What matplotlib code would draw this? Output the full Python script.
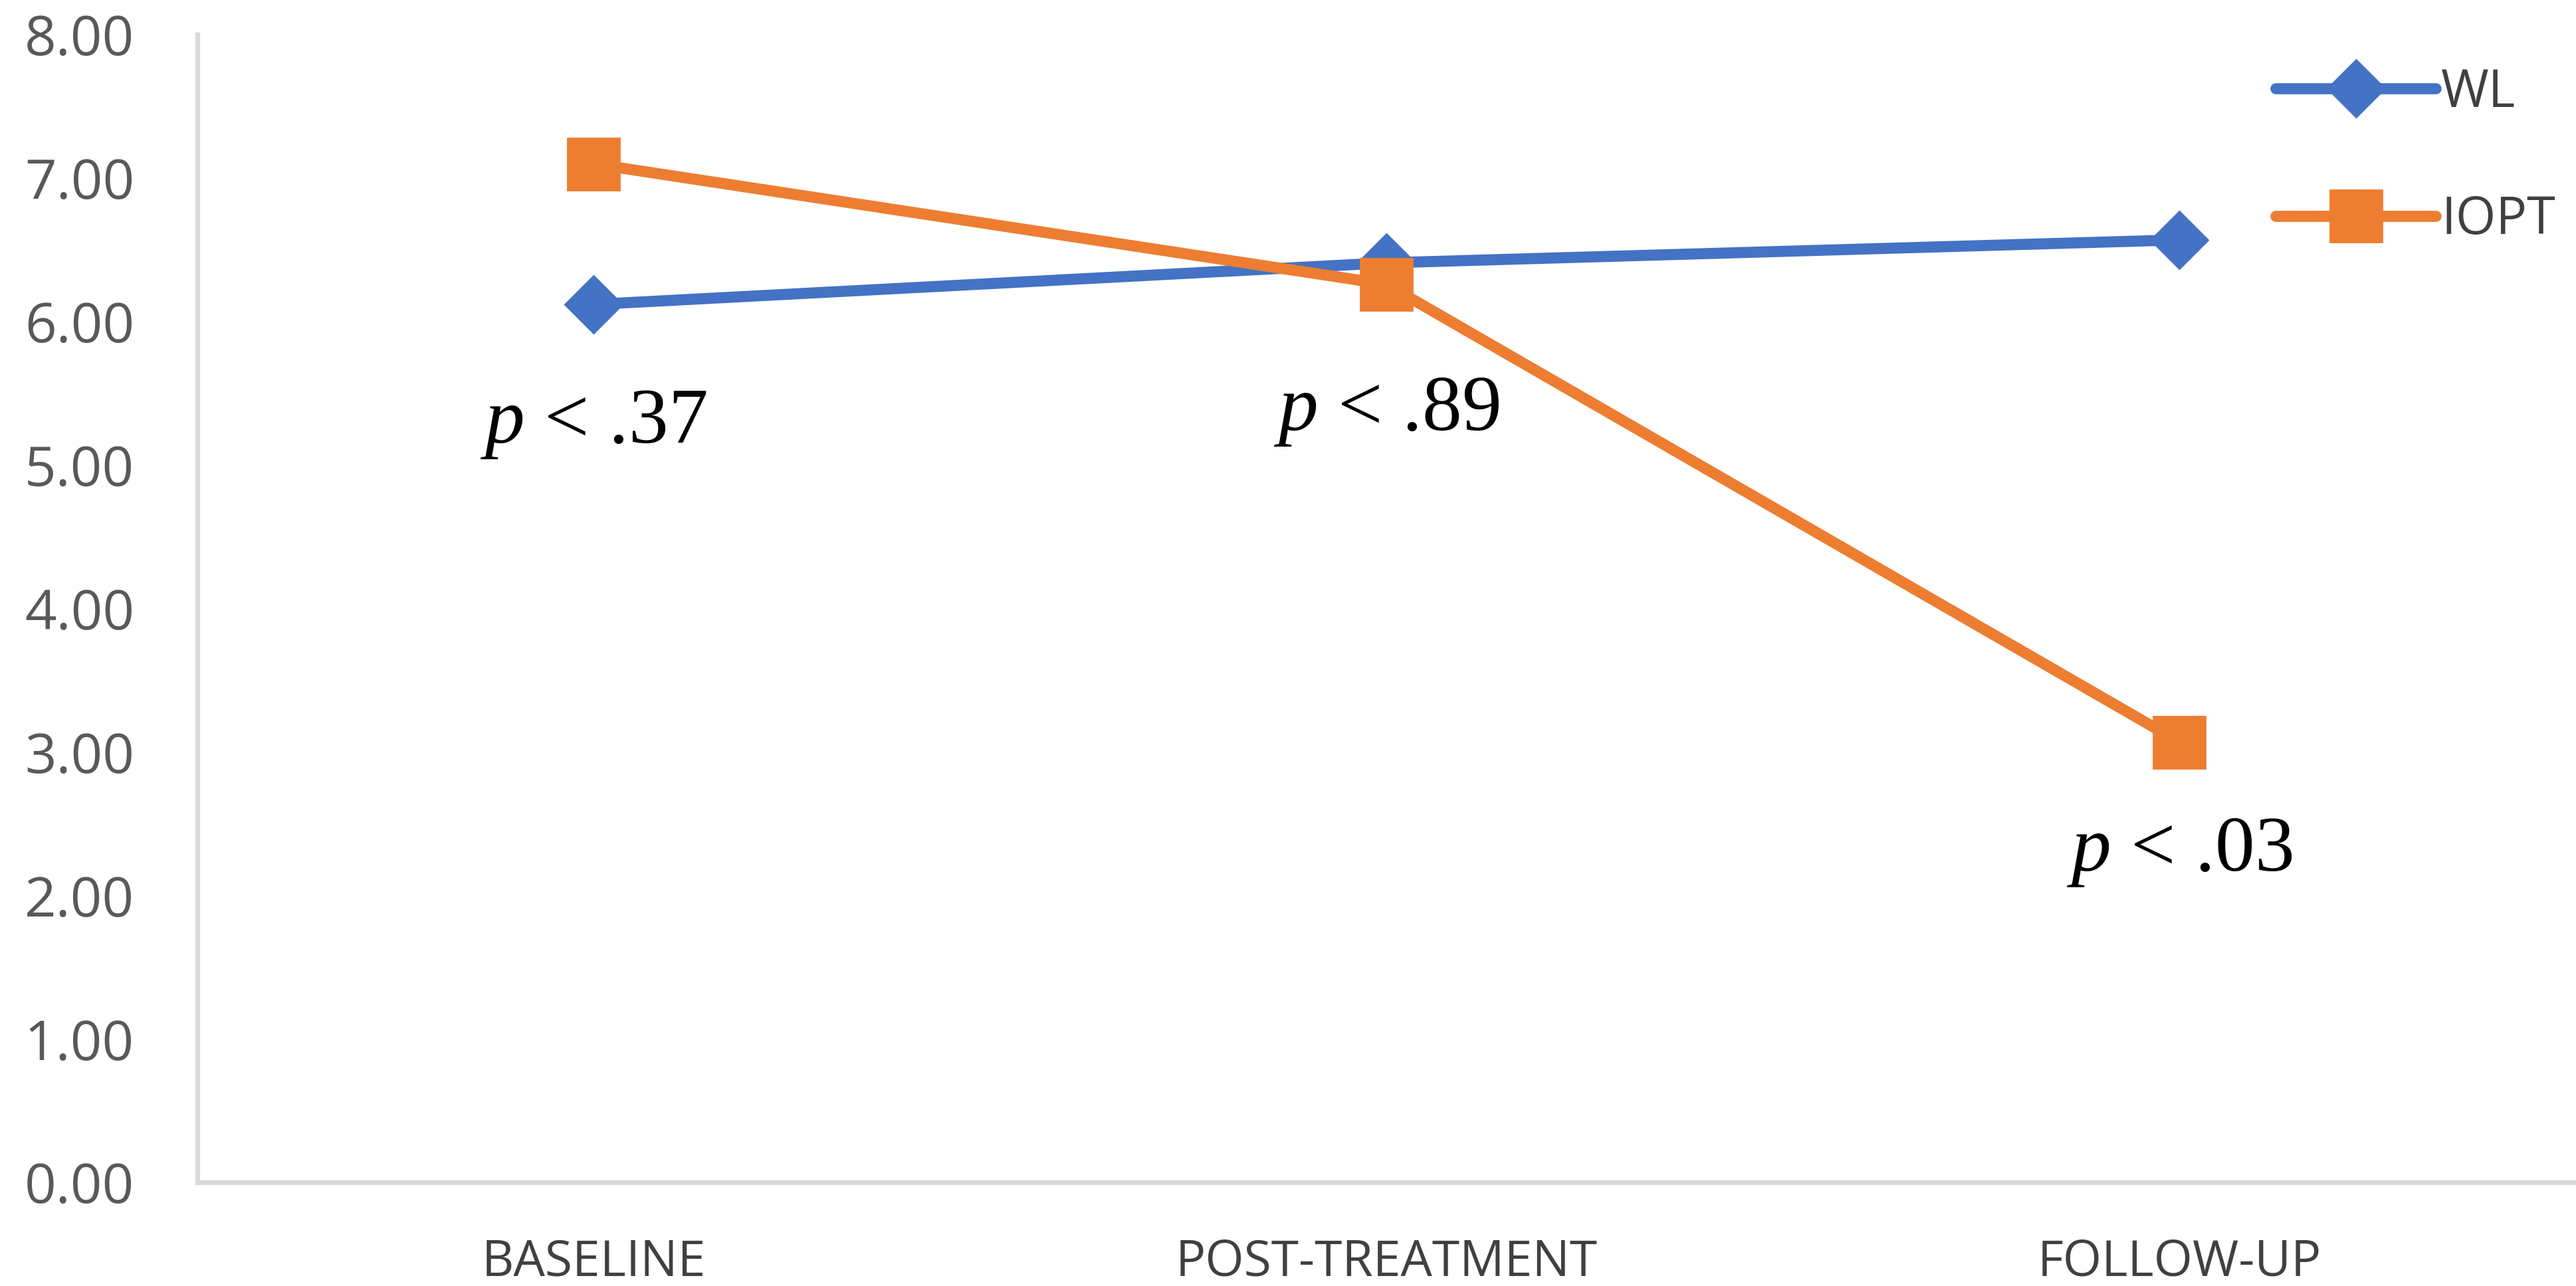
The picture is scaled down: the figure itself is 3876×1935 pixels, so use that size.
import numpy as np
import matplotlib.pyplot as plt
from matplotlib.ticker import FormatStrFormatter

plt.rcParams["mathtext.fontset"] = "custom"
plt.rcParams["mathtext.it"] = "Liberation Serif:italic"
plt.rcParams["mathtext.rm"] = "Liberation Serif"

phases = ["BASELINE", "POST-TREATMENT", "FOLLOW-UP"]
wl = [6.12, 6.41, 6.57]
iopt = [7.10, 6.26, 3.07]
pvals = ["<.37", "<.89", "<.03"]
pval_y = [5.28, 5.37, 2.30]  # where the p labels sit

BLUE = "#4472C4"
ORANGE = "#ED7D31"
GREY = "#D9D9D9"

fig = plt.figure(figsize=(19.38, 9.675), dpi=200)
ax = fig.add_axes([0.0765, 0.0805, 0.9235, 0.8925])

x = np.arange(len(phases))
ax.plot(x, wl, color=BLUE, lw=6, marker="D", ms=22, label="WL",
        solid_capstyle="round")
ax.plot(x, iopt, color=ORANGE, lw=6, marker="s", ms=28, label="IOPT",
        solid_capstyle="round")

for i in range(len(phases)):
    ax.text(x[i], pval_y[i], r"$p$ " + pvals[i].replace("<", "< "),
            ha="center", va="center", fontsize=43,
            family="Liberation Serif", color="black")

ax.set_xlim(-0.5, 2.5)
ax.set_ylim(0, 8)
ax.set_yticks(np.arange(0, 9, 1))
ax.yaxis.set_major_formatter(FormatStrFormatter("%.2f"))
ax.set_xticks(x)
ax.set_xticklabels(phases)

for s in ["top", "right"]:
    ax.spines[s].set_visible(False)
for s in ["left", "bottom"]:
    ax.spines[s].set_color(GREY)
    ax.spines[s].set_linewidth(2.6)

ax.tick_params(axis="y", length=0, pad=34, labelsize=30, labelcolor="#595959")
ax.tick_params(axis="x", length=0, pad=30, labelsize=27, labelcolor="#404040")
for t in ax.get_yticklabels():
    t.set_family("Open Sans")
for t in ax.get_xticklabels():
    t.set_family("Open Sans")

leg = ax.legend(loc="upper right", bbox_to_anchor=(1.0, 0.99), frameon=False,
                fontsize=28, handlelength=3.1, handletextpad=0.1,
                labelspacing=1.45, borderaxespad=0)
for t in leg.get_texts():
    t.set_color("#404040")
    t.set_family("Open Sans")

fig.savefig("out.png", dpi=200, facecolor="white")
